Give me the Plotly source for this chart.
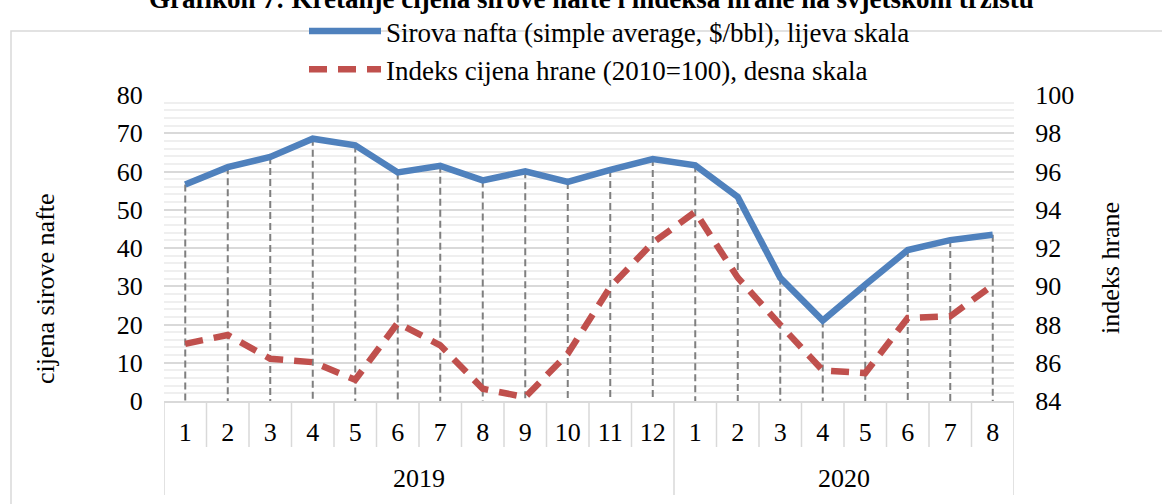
import plotly.graph_objects as go

# ---- data ----
months = ["1", "2", "3", "4", "5", "6", "7", "8", "9", "10", "11", "12",
          "1", "2", "3", "4", "5", "6", "7", "8"]
years = ["2019", "2020"]
year_counts = [12, 8]
oil = [56.58, 61.13, 63.79, 68.58, 66.83, 59.76, 61.48, 57.67, 60.04, 57.27, 60.42, 63.25,
       61.63, 53.35, 32.20, 21.04, 30.38, 39.46, 42.07, 43.44]
food = [86.99, 87.45, 86.21, 86.03, 85.11, 88.08, 86.91, 84.64, 84.20, 86.47, 89.96, 92.27,
        93.89, 90.45, 87.98, 85.60, 85.46, 88.34, 88.43, 90.05]
left_range = [0, 80]
right_range = [84, 100]

title = "Grafikon 7: Kretanje cijena sirove nafte i indeksa hrane na svjetskom tržištu"
name_oil = "Sirova nafta (simple average, $/bbl), lijeva skala"
name_food = "Indeks cijena hrane (2010=100), desna skala"
left_title = "cijena sirove nafte"
right_title = "indeks hrane"

FONT = "Liberation Serif, Times New Roman, serif"
W, H = 1162, 504
ML, MR, MT, MB = 164, 148, 95, 103
PH = H - MT - MB


def py(px):  # pixel y -> paper y
    return (H - MB - px) / PH


def pxx(px):
    return (px - ML) / (W - ML - MR)


xs = list(range(len(months)))

fig = go.Figure()

# drop lines (from oil point down to axis)
dx, dy = [], []
for i, v in enumerate(oil):
    dx += [i, i, None]
    dy += [v, 0, None]
fig.add_trace(go.Scatter(x=dx, y=dy, mode="lines", showlegend=False, hoverinfo="skip",
                         line=dict(color="#7f7f7f", width=2, dash="7px,4px")))

fig.add_trace(go.Scatter(x=xs, y=oil, mode="lines", name=name_oil,
                         line=dict(color="#4F81BD", width=6.5)))
fig.add_trace(go.Scatter(x=xs, y=food, mode="lines", name=name_food, yaxis="y2",
                         line=dict(color="#C0504D", width=6.5, dash="18px,11px")))

shapes = []
# category box lines
n = len(months)
bounds = [0]
for c in year_counts:
    bounds.append(bounds[-1] + c)
for k in range(n + 1):
    is_year = k in bounds
    shapes.append(dict(type="line", xref="x", yref="paper", x0=k - 0.5, x1=k - 0.5,
                       y0=0, y1=py(495) if is_year else py(447),
                       line=dict(color="#d9d9d9", width=1.5)))
# outer border
shapes.append(dict(type="rect", xref="paper", yref="paper", x0=pxx(11), x1=pxx(1180),
                   y0=py(31), y1=py(530), line=dict(color="#d9d9d9", width=1.5)))

annotations = [
    dict(text="<b>" + title + "</b>", xref="paper", yref="paper", x=pxx(591), y=py(-1),
         xanchor="center", yanchor="middle", showarrow=False,
         font=dict(family=FONT, size=27, color="black")),
    dict(text=left_title, xref="paper", yref="paper", x=pxx(45), y=py(288),
         xanchor="center", yanchor="middle", showarrow=False, textangle=-90,
         font=dict(family=FONT, size=26, color="black")),
    dict(text=right_title, xref="paper", yref="paper", x=pxx(1110), y=py(268),
         xanchor="center", yanchor="middle", showarrow=False, textangle=-90,
         font=dict(family=FONT, size=26, color="black")),
]
for k, yname in enumerate(years):
    annotations.append(dict(text=yname, xref="x", yref="paper",
                            x=(bounds[k] + bounds[k + 1] - 1) / 2, y=py(478),
                            xanchor="center", yanchor="middle", showarrow=False,
                            font=dict(family=FONT, size=26, color="black")))

fig.update_layout(
    width=W, height=H,
    margin=dict(l=ML, r=MR, t=MT, b=MB, autoexpand=False),
    paper_bgcolor="white", plot_bgcolor="white",
    font=dict(family=FONT, size=26, color="black"),
    showlegend=True,
    legend=dict(orientation="v", xref="container", yref="container",
                x=304 / W, y=1 - 7 / H, xanchor="left", yanchor="top",
                font=dict(family=FONT, size=27, color="black"), itemwidth=72,
                bgcolor="rgba(0,0,0,0)"),
    xaxis=dict(range=[-0.5, n - 0.5], tickvals=xs, ticktext=months, showgrid=False,
               zeroline=False, showline=True, linecolor="#d9d9d9", linewidth=1.5,
               ticks="outside", ticklen=7, tickcolor="rgba(0,0,0,0)", automargin=False,
               tickfont=dict(family=FONT, size=26, color="black")),
    yaxis=dict(range=left_range, dtick=10, showgrid=True, gridcolor="#d9d9d9", gridwidth=1.5,
               minor=dict(dtick=2, showgrid=True, gridcolor="#efefef", gridwidth=1.5),
               zeroline=False, showline=False, ticks="outside", ticklen=15, automargin=False,
               tickcolor="rgba(0,0,0,0)", tickfont=dict(family=FONT, size=26, color="black")),
    yaxis2=dict(range=right_range, dtick=2, overlaying="y", side="right", showgrid=False,
                zeroline=False, showline=False, ticks="outside", ticklen=15, automargin=False,
                tickcolor="rgba(0,0,0,0)", tickfont=dict(family=FONT, size=26, color="black")),
    shapes=shapes,
    annotations=annotations,
)

fig.write_html("out.html", config={"displayModeBar": False},
               post_script="document.body.style.margin='0px';")
